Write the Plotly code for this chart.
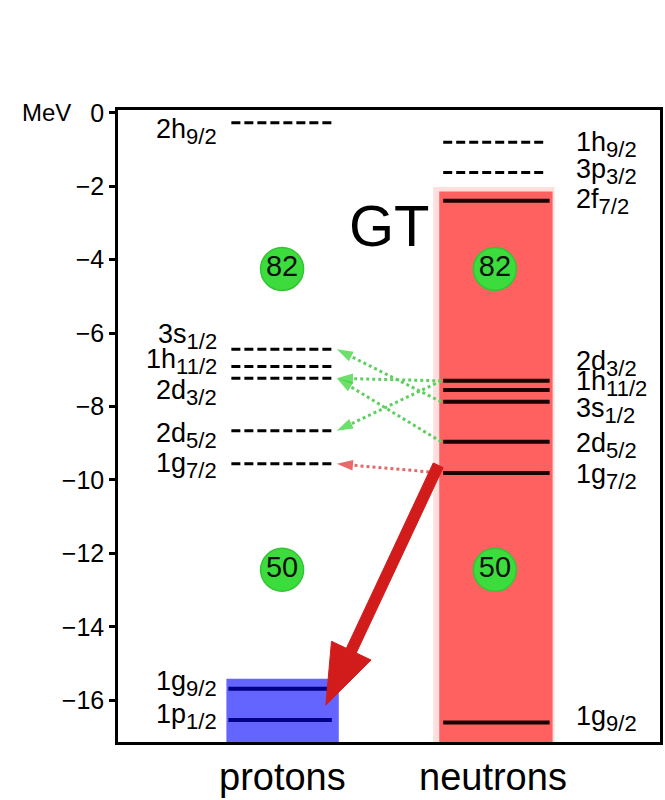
import math
import plotly.graph_objects as go

# ---------------- data ----------------
proton_empty_labels = [("2h", "9/2"), ("3s", "1/2"), ("1h", "11/2"),
                       ("2d", "3/2"), ("2d", "5/2"), ("1g", "7/2")]
proton_empty_E = [-0.27, -6.44, -6.91, -7.23, -8.66, -9.56]
proton_occ_labels = [("1g", "9/2"), ("1p", "1/2")]
proton_occ_E = [-15.69, -16.54]

neutron_empty_labels = [("1h", "9/2"), ("3p", "3/2")]
neutron_empty_E = [-0.80, -1.62]
neutron_occ_labels = [("2f", "7/2"), ("2d", "3/2"), ("1h", "11/2"),
                      ("3s", "1/2"), ("2d", "5/2"), ("1g", "7/2"),
                      ("1g", "9/2")]
neutron_occ_E = [-2.39, -7.30, -7.55, -7.87, -8.96, -9.81, -16.61]

proton_fill_top = -15.42
neutron_fill_top = -2.14

magic_numbers = ["82", "50"]
magic_E = [-4.25, -12.45]

# first-forbidden transitions: neutron level -> proton level
ff_from_E = [-7.87, -7.30, -8.96, -7.30]
ff_to_E = [-6.44, -7.23, -7.23, -8.66]
# allowed (1g7/2 -> 1g7/2)
al_from_E = [-9.81]
al_to_E = [-9.56]
# Gamow-Teller arrow
gt_from_E = -9.6
gt_to_E = -16.13

y_ticks = [0, -2, -4, -6, -8, -10, -12, -14, -16]
columns = ["protons", "neutrons"]

# ---------------- layout geometry ----------------
W, H = 665, 800
ML, MR, MT, MB = 118, 2, 110, 58
YMIN, YMAX = -17.14, 0.08
PH = H - MT - MB
K = PH / (YMAX - YMIN)

def e2py(e):
    return MT + (YMAX - e) * K

def py2e(py):
    return YMAX - (py - MT) / K

FONT = "Liberation Sans, Arial, sans-serif"
LAB_SIZE = 27
SUB_SIZE = 22

def lab_text(t):
    return f'{t[0]}<sub><span style="font-size:{SUB_SIZE}px">{t[1]}</span></sub>'

xp_center, xn_center = 283, 497
xp_box = (227, 340)
xn_box = (441, 555)
xp_dash = (232, 336)
xp_solid = (229, 333)
xn_solid = (445, 552)
xn_dash = (445, 548)
x_arrow_start = 443
x_arrow_end = 338

fig = go.Figure()

# filled boxes
fig.add_trace(go.Bar(x=[xn_center - 1], y=[neutron_fill_top + 0.12 - YMIN], base=[YMIN],
                     width=[xn_box[1] - xn_box[0] + 8], marker=dict(color="#ffdede", line_width=0),
                     hoverinfo="skip"))
fig.add_trace(go.Bar(x=[(xn_box[0] + xn_box[1]) / 2], y=[neutron_fill_top - YMIN], base=[YMIN],
                     width=[xn_box[1] - xn_box[0]], marker=dict(color="#ff6161", line_width=0),
                     hoverinfo="skip"))
fig.add_trace(go.Bar(x=[(xp_box[0] + xp_box[1]) / 2], y=[proton_fill_top - YMIN], base=[YMIN],
                     width=[xp_box[1] - xp_box[0]], marker=dict(color="#6464ff", line_width=0),
                     hoverinfo="skip"))

def seg(x0x1, energies):
    xs, ys = [], []
    for e in energies:
        xs += [x0x1[0], x0x1[1], None]
        ys += [e, e, None]
    return xs, ys

xs, ys = seg(xp_dash, proton_empty_E)
fig.add_trace(go.Scatter(x=xs, y=ys, mode="lines",
                         line=dict(color="black", width=3, dash="9px,4px")))
xs, ys = seg(xn_dash, neutron_empty_E)
fig.add_trace(go.Scatter(x=xs, y=ys, mode="lines",
                         line=dict(color="black", width=3, dash="9px,4px")))
xs, ys = seg(xp_solid, proton_occ_E)
fig.add_trace(go.Scatter(x=xs, y=ys, mode="lines", line=dict(color="#000088", width=4)))
xs, ys = seg(xn_solid, neutron_occ_E)
fig.add_trace(go.Scatter(x=xs, y=ys, mode="lines", line=dict(color="#1a0000", width=4)))

# magic-number circles
for xc in (xp_center, xn_center):
    fig.add_trace(go.Scatter(x=[xc] * len(magic_E), y=magic_E, mode="markers+text",
                             text=magic_numbers, textposition="middle center",
                             textfont=dict(family=FONT, size=29, color="#111111"),
                             marker=dict(size=43, color="#3ddc3d",
                                         line=dict(color="#33c433", width=1.5))))

# dotted transition arrows
def dotted_arrow(e0, e1, lc, hc):
    fig.add_trace(go.Scatter(x=[x_arrow_start, x_arrow_end], y=[e0, e1], mode="lines+markers",
                             line=dict(color=lc, width=3, dash="dot"),
                             marker=dict(symbol="arrow", size=[0, 17], color=hc,
                                         angleref="previous", line_width=0)))

for a, b in zip(ff_from_E, ff_to_E):
    dotted_arrow(a, b, "#5fcf5f", "#2ed12e")
for a, b in zip(al_from_E, al_to_E):
    dotted_arrow(a, b, "#e06a6a", "#e02a2a")

# GT arrow as polygon computed in pixel space
sx, sy = 440, e2py(gt_from_E)
tx, ty = 327, e2py(gt_to_E)
L = math.hypot(tx - sx, ty - sy)
dx, dy = (tx - sx) / L, (ty - sy) / L
nx, ny = -dy, dx
hl, hw, sw = 60, 22, 5.5
bx, by = tx - dx * hl, ty - dy * hl
pts = [(sx + nx * sw, sy + ny * sw), (bx + nx * sw, by + ny * sw), (bx + nx * hw, by + ny * hw),
       (tx, ty), (bx - nx * hw, by - ny * hw), (bx - nx * sw, by - ny * sw),
       (sx - nx * sw, sy - ny * sw), (sx + nx * sw, sy + ny * sw)]
fig.add_trace(go.Scatter(x=[p[0] for p in pts], y=[py2e(p[1]) for p in pts], mode="lines",
                         fill="toself", fillcolor="#d21c1c", line=dict(color="#d21c1c", width=1)))

annotations = []
# level labels
SUBD = 4
def add_labels(labels, energies, offsets, x, anchor):
    for lab, e, off in zip(labels, energies, offsets):
        annotations.append(dict(x=x, y=e, xref="x", yref="y", text=lab_text(lab), showarrow=False,
                                xanchor=anchor, yanchor="middle", yshift=-(off + SUBD),
                                font=dict(family=FONT, size=LAB_SIZE, color="black")))

add_labels(proton_empty_labels, proton_empty_E, [5, -17, -9, 10, 1, -2], 220, "right")
add_labels(proton_occ_labels, proton_occ_E, [-9, -7], 220, "right")
add_labels(neutron_empty_labels, neutron_empty_E, [-2, -5], 577, "left")
add_labels(neutron_occ_labels, neutron_occ_E, [-3, -21, -11, 5, 0, 0, -8], 577, "left")

# GT text
annotations.append(dict(x=391, y=py2e(225), xref="x", yref="y", text="GT", showarrow=False,
                        xanchor="center", yanchor="middle",
                        font=dict(family=FONT, size=58, color="black")))
# MeV
annotations.append(dict(x=(46 - ML) / (W - ML - MR), y=0, xref="paper", yref="y", text="MeV",
                        showarrow=False, xanchor="center", yanchor="middle",
                        font=dict(family=FONT, size=24, color="black")))
# column labels
for name, xc in zip(columns, (xp_center, xn_center - 2)):
    annotations.append(dict(x=xc, y=0, xref="x", yref="paper", text=name, showarrow=False,
                            xanchor="center", yanchor="middle", yshift=-35,
                            font=dict(family=FONT, size=38, color="black")))

fig.update_layout(
    width=W, height=H, margin=dict(l=ML, r=MR, t=MT, b=MB),
    paper_bgcolor="white", plot_bgcolor="white", showlegend=False,
    barmode="overlay", annotations=annotations,
    xaxis=dict(range=[ML, W - MR], showgrid=False, zeroline=False, showticklabels=False,
               ticks="", showline=True, linecolor="black", linewidth=2.5, mirror=True),
    yaxis=dict(range=[YMIN, YMAX], showgrid=False, zeroline=False, tickvals=y_ticks,
               ticks="outside", ticklen=6, tickwidth=3, tickcolor="black",
               tickfont=dict(family=FONT, size=25, color="black"),
               showline=True, linecolor="black", linewidth=2.5, mirror=True),
)

fig.write_html("out.html")
